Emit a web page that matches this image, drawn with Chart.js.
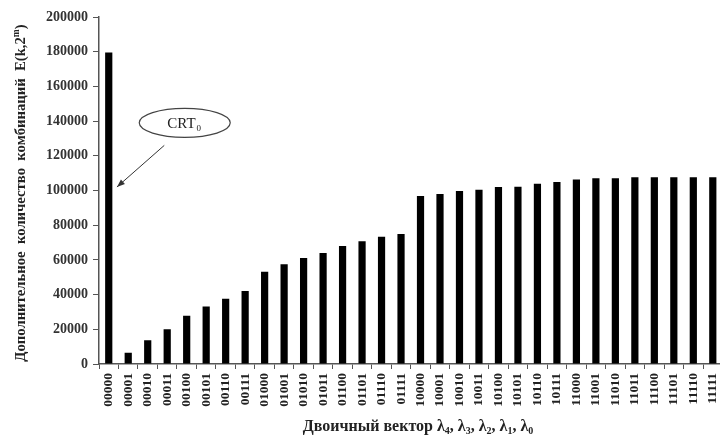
<!DOCTYPE html>
<html>
<head>
<meta charset="utf-8">
<script src="https://cdn.jsdelivr.net/npm/chart.js@4"></script>
<style>
  html, body { margin: 0; padding: 0; background: #fff; overflow: hidden; }
  #wrap { width: 733px; height: 441px; position: relative; }
</style>
</head>
<body>
<div id="wrap"><canvas id="c"></canvas></div>
<script>
const categories = ['00000','00001','00010','00011','00100','00101','00110','00111',
  '01000','01001','01010','01011','01100','01101','01110','01111',
  '10000','10001','10010','10011','10100','10101','10110','10111',
  '11000','11001','11010','11011','11100','11101','11110','11111'];
const values = [179500, 6500, 13700, 20000, 27800, 33200, 37600, 42100,
  53200, 57500, 61100, 64000, 68000, 70700, 73400, 74900,
  96800, 98000, 99700, 100500, 102000, 102200, 103900, 104900,
  106400, 107000, 107000, 107600, 107600, 107600, 107600, 107600];
const yMin = 0, yMax = 200000, yStep = 20000;
const yTitleMain = 'Дополнительное  количество  комбинаций  E(k,2';
const yTitleSup = 'm';
const yTitleEnd = ')';
const xTitleParts = [['Двоичный вектор λ', false], ['4', true], [', λ', false], ['3', true],
  [', λ', false], ['2', true], [', λ', false], ['1', true], [', λ', false], ['0', true]];
const noteMain = 'CRT', noteSub = '0';
const noteAt = { x: 3.9, y: 139000 };
const arrowFrom = { x: 2.85, y: 126000 };
const arrowTo = { x: 0.42, y: 102000 };

const SERIF = '"Liberation Serif", "Times New Roman", serif';

const extras = {
  id: 'extras',
  afterDraw(chart) {
    const ctx = chart.ctx;
    const xs = chart.scales.x, ys = chart.scales.y;
    ctx.save();
    ctx.fillStyle = '#222';
    // y title
    const mainFont = 'bold 14.7px ' + SERIF;
    const supFont = 'bold 9.5px ' + SERIF;
    ctx.font = mainFont;
    const w1 = ctx.measureText(yTitleMain).width;
    const w3 = ctx.measureText(yTitleEnd).width;
    ctx.font = supFont;
    const w2 = ctx.measureText(yTitleSup).width;
    const tot = w1 + w2 + w3;
    const cy = 193;
    ctx.translate(25, cy);
    ctx.rotate(-Math.PI / 2);
    ctx.textBaseline = 'alphabetic';
    ctx.textAlign = 'left';
    let px = -tot / 2;
    ctx.font = mainFont;
    ctx.fillText(yTitleMain, px, 0); px += w1;
    ctx.font = supFont;
    ctx.fillText(yTitleSup, px, -6); px += w2;
    ctx.font = mainFont;
    ctx.fillText(yTitleEnd, px, 0);
    ctx.setTransform(1, 0, 0, 1, 0, 0);

    // x title
    const xMain = 'bold 16px ' + SERIF, xSub = 'bold 10px ' + SERIF;
    let totX = 0;
    xTitleParts.forEach(([t, sub]) => {
      ctx.font = sub ? xSub : xMain;
      totX += ctx.measureText(t).width;
    });
    px = 418 - totX / 2;
    const by = 431;
    xTitleParts.forEach(([t, sub]) => {
      ctx.font = sub ? xSub : xMain;
      ctx.fillText(t, px, sub ? by + 3 : by);
      px += ctx.measureText(t).width;
    });

    // annotation ellipse
    const ex = xs.getPixelForValue(noteAt.x), ey = ys.getPixelForValue(noteAt.y);
    ctx.beginPath();
    ctx.ellipse(ex, ey, 45.5, 14.5, 0, 0, Math.PI * 2);
    ctx.fillStyle = '#fff';
    ctx.fill();
    ctx.strokeStyle = '#444';
    ctx.lineWidth = 1.2;
    ctx.stroke();
    ctx.fillStyle = '#222';
    ctx.font = '15px ' + SERIF;
    const cw = ctx.measureText(noteMain).width;
    ctx.font = '9px ' + SERIF;
    const sw = ctx.measureText(noteSub).width;
    let tx = ex - (cw + sw) / 2 - 1;
    ctx.textBaseline = 'middle';
    ctx.font = '15px ' + SERIF;
    ctx.fillText(noteMain, tx, ey + 1);
    ctx.font = '9px ' + SERIF;
    ctx.fillText(noteSub, tx + cw + 1, ey + 6);

    // arrow
    const ax1 = xs.getPixelForValue(arrowFrom.x), ay1 = ys.getPixelForValue(arrowFrom.y);
    const ax2 = xs.getPixelForValue(arrowTo.x), ay2 = ys.getPixelForValue(arrowTo.y);
    ctx.beginPath();
    ctx.moveTo(ax1, ay1);
    ctx.lineTo(ax2, ay2);
    ctx.strokeStyle = '#333';
    ctx.lineWidth = 1;
    ctx.stroke();
    const ang = Math.atan2(ay2 - ay1, ax2 - ax1);
    const L = 8, W = 3;
    ctx.beginPath();
    ctx.moveTo(ax2, ay2);
    ctx.lineTo(ax2 - L * Math.cos(ang) + W * Math.sin(ang), ay2 - L * Math.sin(ang) - W * Math.cos(ang));
    ctx.lineTo(ax2 - L * Math.cos(ang) - W * Math.sin(ang), ay2 - L * Math.sin(ang) + W * Math.cos(ang));
    ctx.closePath();
    ctx.fillStyle = '#333';
    ctx.fill();
    ctx.restore();
  }
};

new Chart(document.getElementById('c'), {
  type: 'bar',
  data: {
    labels: categories,
    datasets: [{
      data: values,
      backgroundColor: '#000',
      borderWidth: 0,
      barPercentage: 0.37,
      categoryPercentage: 1.0
    }]
  },
  options: {
    responsive: true,
    maintainAspectRatio: false,
    animation: false,
    devicePixelRatio: 1,
    layout: { padding: { top: 17, left: 0, right: 0, bottom: 0 } },
    plugins: { legend: { display: false }, tooltip: { enabled: false } },
    scales: {
      x: {
        afterFit(s) { s.height = 77; },
        grid: { display: true, drawOnChartArea: false, drawTicks: true, tickLength: 5, color: '#555', offset: true },
        border: { display: true, color: '#555', width: 1.5 },
        ticks: {
          autoSkip: false, minRotation: 90, maxRotation: 90, padding: 4,
          color: '#222', font: { family: SERIF, size: 13.5, weight: 'bold' }
        }
      },
      y: {
        min: yMin, max: yMax,
        afterFit(s) { s.width = 99; },
        grid: { display: true, drawOnChartArea: false, drawTicks: true, tickLength: 6, color: '#555' },
        border: { display: true, color: '#555', width: 1.5 },
        ticks: {
          stepSize: yStep, padding: 5,
          color: '#333', font: { family: SERIF, size: 14, weight: 'bold' },
          callback: (v) => String(v)
        }
      }
    }
  },
  plugins: [extras]
});
</script>
</body>
</html>
